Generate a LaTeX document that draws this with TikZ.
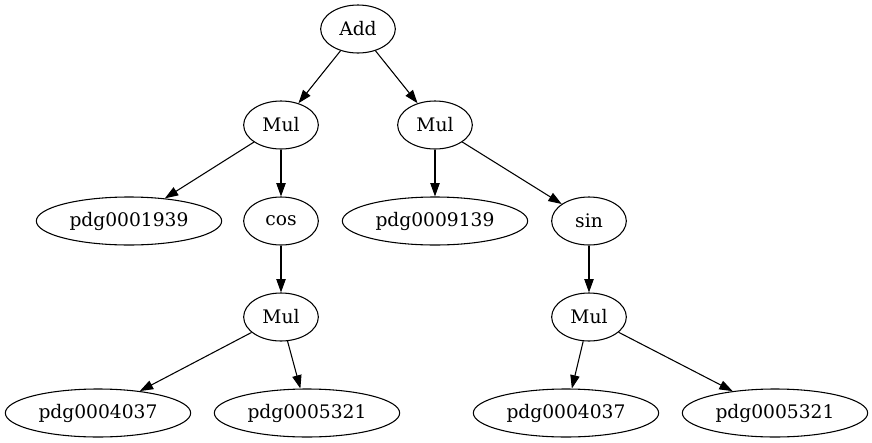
\documentclass[tikz,border=0pt]{standalone}
\usepackage{fontspec}
\setmainfont{DejaVu Serif}
\usetikzlibrary{shapes.geometric,arrows.meta}
\begin{document}
\begin{tikzpicture}[x=0.75pt,y=-0.75pt,
  every node/.style={ellipse,draw,line width=0.8pt,inner sep=0pt,minimum height=36pt,font=\fontsize{14}{16}\selectfont},
  op/.style={minimum width=56pt},
  leaf/.style={minimum width=139pt},
  edge/.style={line width=0.8pt,-{Triangle[length=10pt,width=7pt]}}]
\useasboundingbox (0,0) rectangle (872,443);
\node[op] (add) at (358,29) {Add};
\node[op] (m1) at (281,125) {Mul};
\node[op] (m2) at (435,125) {Mul};
\node[leaf] (p1) at (129,221) {pdg0001939};
\node[op] (cos) at (281,221) {cos};
\node[leaf] (p2) at (435,221) {pdg0009139};
\node[op] (sin) at (589,221) {sin};
\node[op] (m3) at (281,317) {Mul};
\node[op] (m4) at (589,317) {Mul};
\node[leaf] (p3) at (98,413) {pdg0004037};
\node[leaf] (p4) at (307,413) {pdg0005321};
\node[leaf] (p5) at (566,413) {pdg0004037};
\node[leaf] (p6) at (775,413) {pdg0005321};
\draw[edge] (add) -- (m1);
\draw[edge] (add) -- (m2);
\draw[edge] (m1) -- (p1);
\draw[edge] (m1) -- (cos);
\draw[edge] (m2) -- (p2);
\draw[edge] (m2) -- (sin);
\draw[edge] (cos) -- (m3);
\draw[edge] (sin) -- (m4);
\draw[edge] (m3) -- (p3);
\draw[edge] (m3) -- (p4);
\draw[edge] (m4) -- (p5);
\draw[edge] (m4) -- (p6);
\end{tikzpicture}
\end{document}
